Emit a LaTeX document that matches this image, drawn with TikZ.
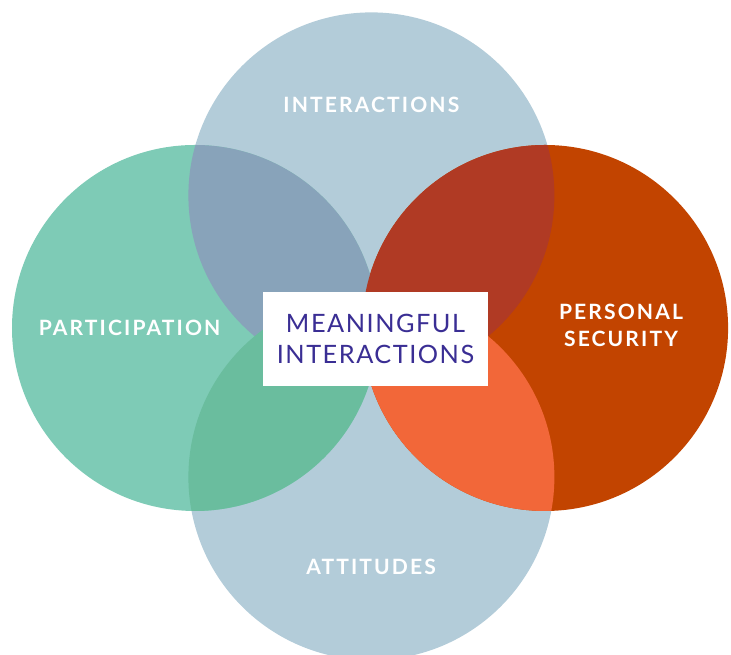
\documentclass[tikz,border=0pt]{standalone}
\usepackage{fontspec}
\setmainfont{Lato}
\newfontfamily\labelfont[LetterSpace=10]{Lato}
\newfontfamily\titlefont[LetterSpace=6]{Lato}
\usepackage{tikz}
\usepackage{tkz-euclide}

\definecolor{venblue}{HTML}{B3CCD9}
\definecolor{vengreen}{HTML}{7ECBB6}
\definecolor{venred}{HTML}{C24400}
\definecolor{bluegreen}{HTML}{88A3BA}
\definecolor{bluered}{HTML}{B03A24}
\definecolor{lowgreen}{HTML}{6ABD9E}
\definecolor{lowred}{HTML}{F26739}
\definecolor{inkviolet}{HTML}{3A2E94}

\tikzset{
    circlelabel/.style={text=white, align=center,
        font=\labelfont\bfseries\fontsize{20}{25.6}\selectfont},
    centrebox/.style={fill=white, align=center, text=inkviolet,
        minimum width=7.5cm, minimum height=3.13cm,
        font=\titlefont\fontsize{24}{29.4}\selectfont}
}

\begin{document}
\begin{tikzpicture}
    \useasboundingbox (0,0) rectangle (24.367,21.833);
    \tkzDefPoints{12.38/15.32/I, 12.38/5.93/A, 6.5/10.9/P, 18.17/10.9/S}
    \fill[venblue] (I) circle (6.1);
    \begin{scope}
        % bottom circle runs off the lower edge
        \clip (0,0) rectangle (24.367,21.833);
        \fill[venblue] (A) circle (6.1);
    \end{scope}
    \fill[vengreen] (P) circle (6.1);
    \fill[venred] (S) circle (6.1);
    % overlaps with the top circle
    \begin{scope}
        \clip (I) circle (6.1);
        \fill[bluegreen] (P) circle (6.1);
        \fill[bluered] (S) circle (6.1);
    \end{scope}
    % overlaps with the bottom circle
    \begin{scope}
        \clip (A) circle (6.1);
        \fill[lowgreen] (P) circle (6.1);
        \fill[lowred] (S) circle (6.1);
    \end{scope}
    \node[circlelabel] (interactions) at (12.38,18.33) {INTERACTIONS};
    \node[circlelabel] (participation) at (4.32,10.9) {PARTICIPATION};
    \node[circlelabel] (security) at (20.7,10.98) {PERSONAL\\SECURITY};
    \node[circlelabel] (attitudes) at (12.37,2.95) {ATTITUDES};
    \node[centrebox] (meaningful) at (12.517,10.533) {MEANINGFUL\\INTERACTIONS};
\end{tikzpicture}
\end{document}
